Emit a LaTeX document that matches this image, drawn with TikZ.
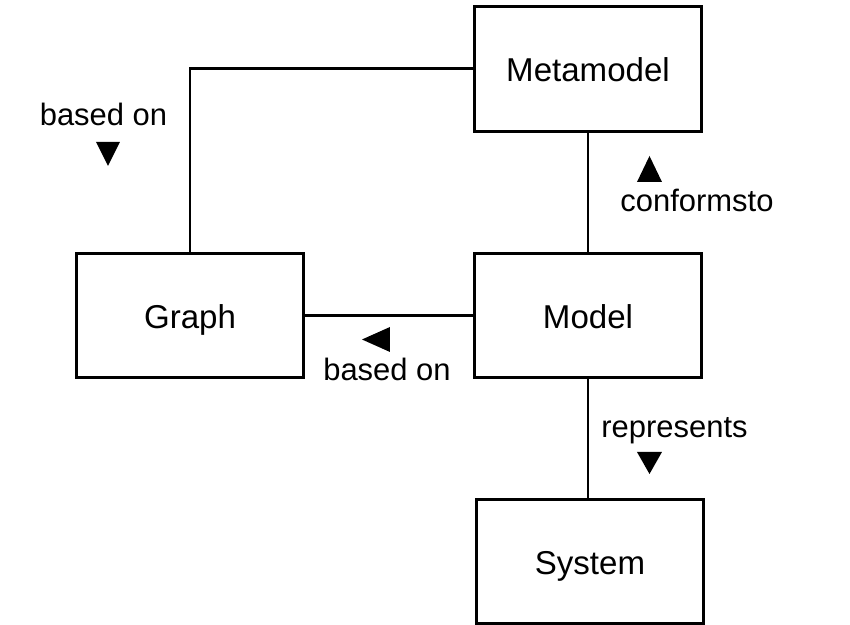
\documentclass[tikz,border=0pt]{standalone}
\usepackage{fontspec}
\setmainfont{Liberation Sans}
\usepackage{tikz}

\begin{document}
\begin{tikzpicture}[x=0.01cm, y=-0.01cm, line width=0.85pt,
	box/.style={rectangle, draw, minimum width=2.26cm, minimum height=1.24cm, text height=0.72em, text depth=0pt, font=\fontsize{9.4}{11}\selectfont},
	lbl/.style={anchor=base, inner sep=0pt, font=\fontsize{8.8}{10}\selectfont}]
	\useasboundingbox (0,0) rectangle (850,625);
	\node at (588,69) [box] (meta) {Metamodel};
	\node at (190,315.5) [box] (graph) {Graph};
	\node at (588,315.5) [box] (model) {Model};
	\node at (590,561.5) [box] (sys) {System};
	\draw (meta.west) -| (graph.north);
	\draw (meta.south) -- (model.north);
	\draw (model.west) -- (graph.east);
	\draw (model.south) -- (model.south |- sys.north);
	% labels
	\node at (103.5,126) [lbl] (lbased) {based on};
	\fill[shift={(108,154)}] (-12,-12) -- (12,-12) -- (0,12) -- cycle;
	\node at (697,212) [lbl] (lconf) {conformsto};
	\fill[shift={(649.5,169)}] (-12.5,13) -- (12.5,13) -- (0,-13) -- cycle;
	\node at (387,381) [lbl] (mbased) {based on};
	\fill[shift={(376,339.5)}] (14,-12.5) -- (14,12.5) -- (-14,0) -- cycle;
	\node at (674.5,438) [lbl] (lrep) {represents};
	\fill[shift={(649.5,463)}] (-12.5,-11) -- (12.5,-11) -- (0,11) -- cycle;
\end{tikzpicture}
\end{document}
